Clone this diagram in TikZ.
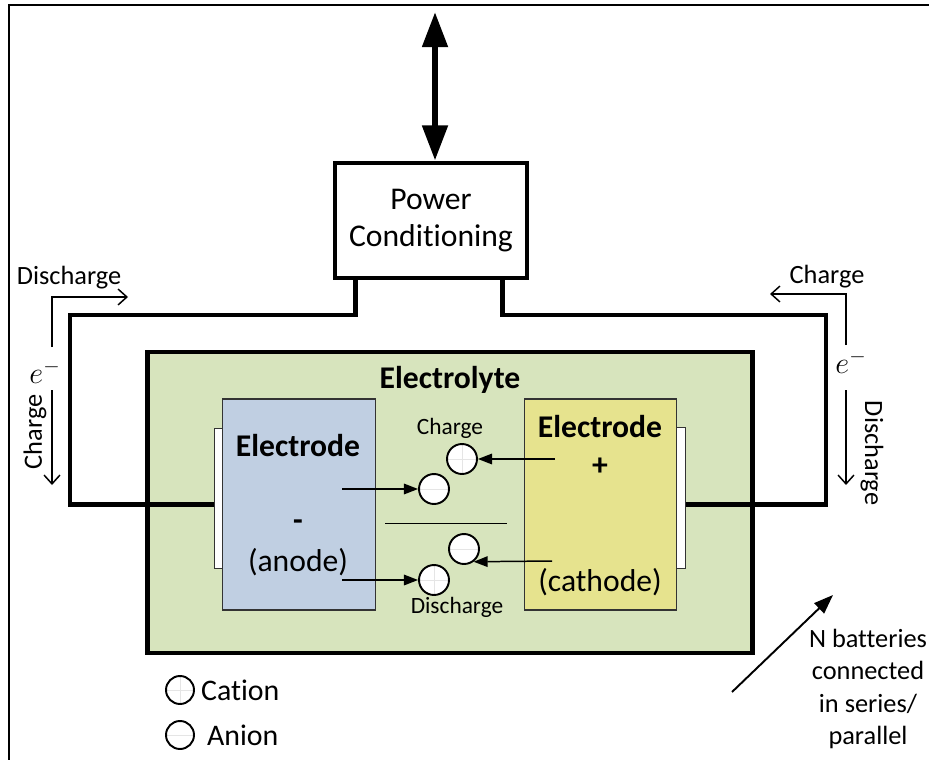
\documentclass[tikz,border=0pt]{standalone}
\usepackage{fontspec}
\setmainfont{Carlito}[Ligatures={NoCommon,NoContextual,NoRare},RawFeature={-liga;-clig;-dlig;-calt}]
\usetikzlibrary{arrows.meta}
\definecolor{elyte}{HTML}{D7E4BD}
\definecolor{anodec}{HTML}{C0CFE2}
\definecolor{cathc}{HTML}{E6E38E}
\newcommand{\fz}[2]{\fontsize{#1pt}{#2pt}\selectfont}
\begin{document}
\begin{tikzpicture}[x=0.02cm,y=-0.02cm,
  wire/.style={line width=2.8pt},
  box/.style={draw, line width=2.8pt, inner sep=0pt},
  electrode/.style={draw=black!80, line width=0.6pt, inner sep=0pt, minimum width=3.05cm, minimum height=4.22cm},
  plate/.style={draw=black!80, fill=white, line width=0.6pt, inner sep=0pt, minimum width=0.17cm, minimum height=2.81cm},
  ion/.style={circle, draw, fill=white, line width=1.1pt, minimum size=0.6cm, inner sep=0pt},
  anion/.style={ion, path picture={\draw[black!10,line width=0.5pt] (path picture bounding box.west) -- (path picture bounding box.east);}},
  cation/.style={ion, path picture={\draw[black!10,line width=0.5pt] (path picture bounding box.west) -- (path picture bounding box.east) (path picture bounding box.north) -- (path picture bounding box.south);}},
  ionarrow/.style={line width=0.85pt, -{Triangle[length=8pt,width=6pt]}},
  earrow/.style={line width=0.85pt, -{Straight Barb[length=5pt,width=9pt]}},
  big/.style={font=\fz{18}{21}},
  bigb/.style={font=\fz{18}{21}\bfseries},
  mid/.style={font=\fz{15}{18.5}},
  small/.style={font=\fz{13.3}{16}},
  elab/.style={font=\fz{17}{20}}
]
\useasboundingbox (0,0) rectangle (929,760);
% frame
\draw[line width=1.1pt] (9,760) -- (9,5) -- (929,5);
% power conditioning
\node[box, minimum width=3.84cm, minimum height=2.3cm, align=center, big] (pc) at (431,220.5) {Power\\Conditioning};
\coordinate (gridtop) at (435,12);
\draw[line width=3.5pt, {Triangle[length=20pt,width=14pt]}-{Triangle[length=20pt,width=14pt]}] (gridtop) -- (gridtop |- pc.north);
% electrolyte
\node[box, fill=elyte, minimum width=12.12cm, minimum height=6.02cm] (ely) at (450,502.5) {};
\node[bigb] (elylab) at (450,380) {Electrolyte};
% electrodes
\node[plate] (ap) at (218.5,498.5) {};
\node[electrode, fill=anodec] (an) at (299,504.5) {};
\node[plate] (cp) at (681,498) {};
\node[electrode, fill=cathc] (ca) at (600.5,504.5) {};
\node[bigb] (an1) at (298,446) {Electrode};
\node[bigb] (an2) at (298,525) {-};
\node[big] (an3) at (298,562) {(anode)};
\node[bigb] (ca1) at (600,427) {Electrode};
\node[bigb] (ca2) at (600,467) {+};
\node[big] (ca3) at (600,582) {(cathode)};
% wires
\draw[wire] ([xshift=0.46cm]pc.south west) |- (70,315) |- (ap.west |- an.center);
\draw[wire] ([xshift=-0.54cm]pc.south east) |- (826,315) |- (cp.east |- ca.center);
% ions
\node[cation] (cC) at (462,459) {};
\node[anion] (cA) at (434,489) {};
\node[anion] (dA) at (464,549) {};
\node[cation] (dC) at (434,580) {};
\coordinate (s1) at (555,459);
\coordinate (s2) at (342,489);
\coordinate (s3) at (552,561);
\coordinate (s4) at (342,580);
\draw[ionarrow] (s1) -- (cC.east);
\draw[ionarrow] (s2) -- (cA.west);
\draw[ionarrow] (s3) -- (dA.-53);
\draw[ionarrow] (s4) -- (dC.west);
\coordinate (sepL) at (385,523);
\coordinate (sepR) at (507,523);
\draw[line width=0.45pt] (sepL) -- (sepR);
\node[small] (chl) at (450,428) {Charge};
\node[small] (dchl) at (457,607) {Discharge};
% left electron labels
\node[mid] (ldis) at (69,278) {Discharge};
\coordinate (la1) at (52,347);
\coordinate (la1e) at (128,297);
\draw[earrow] (la1) |- (la1e);
\node[elab] (le) at (45,372) {$e^{-}$};
\node[mid, rotate=90] (lch) at (35,432) {Charge};
\coordinate (la2) at (52,390);
\coordinate (la2e) at (52,485);
\draw[earrow] (la2) -- (la2e);
% right electron labels
\node[mid] (rch) at (827,277) {Charge};
\coordinate (ra1) at (846,345);
\coordinate (ra1e) at (770,294);
\draw[earrow] (ra1) |- (ra1e);
\node[elab] (re) at (851,362) {$e^{-}$};
\node[mid, rotate=-90] (rdis) at (872,453) {Discharge};
\coordinate (ra2) at (846,390);
\coordinate (ra2e) at (846,485);
\draw[earrow] (ra2) -- (ra2e);
% N batteries
\coordinate (nb1) at (732,692);
\coordinate (nb2) at (833,595);
\draw[line width=1.1pt, -{Triangle[length=11pt,width=8pt]}] (nb1) -- (nb2);
\node[mid, align=center] (nbl) at (868,689) {N batteries\\connected\\in series/\\parallel};
% legend
\node[cation, minimum size=0.56cm] (lgC) at (180,690) {};
\node[anchor=west, font=\fz{17}{20}] (lgCt) at (lgC.east) {Cation};
\node[anion, minimum size=0.56cm] (lgA) at (180,735) {};
\node[anchor=west, font=\fz{17}{20}, xshift=0.12cm] (lgAt) at (lgA.east) {Anion};
\end{tikzpicture}
\end{document}
